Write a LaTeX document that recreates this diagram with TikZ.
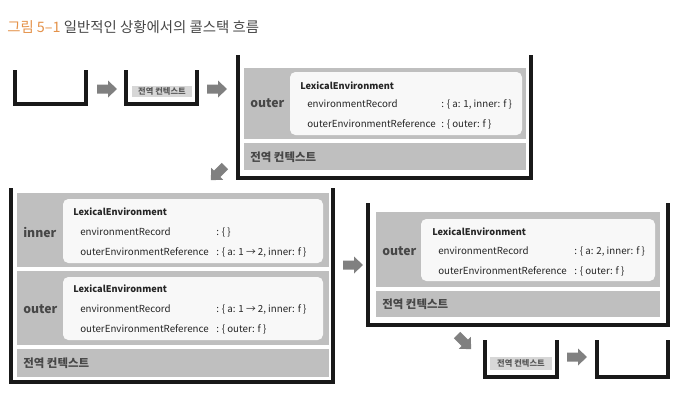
\documentclass[tikz,border=0pt]{standalone}
\usepackage{fontspec}
\setmainfont{Noto Sans CJK KR}

\definecolor{titleorange}{RGB}{228,146,74}
\definecolor{titlegray}{RGB}{70,70,70}
\definecolor{envgray}{RGB}{191,191,191}
\definecolor{lexwhite}{RGB}{248,248,248}
\definecolor{tagray}{RGB}{215,215,215}
\definecolor{arrowgray}{RGB}{128,128,128}

\tikzstyle{txt} = [inner sep=0pt, anchor=west, text=black!85, font=\fontsize{7.3}{9}\selectfont]
\tikzstyle{lexhead} = [txt, font=\fontsize{6.9}{9}\selectfont\bfseries]
\tikzstyle{envname} = [txt, font=\fontsize{9.2}{11}\selectfont\bfseries, text=black!72]
\tikzstyle{globaltxt} = [txt, font=\fontsize{8.6}{10}\selectfont\bfseries, text=black!72]
\tikzstyle{smalltxt} = [inner sep=0pt, text=black!65, font=\fontsize{6.2}{7}\selectfont\bfseries]
\tikzstyle{stackline} = [line width=2.6pt, black!90, line join=miter]
\tikzstyle{envbox} = [fill=envgray]
\tikzstyle{lexbox} = [fill=lexwhite, rounded corners=4pt]
\tikzstyle{tagbox} = [fill=tagray]

\tikzset{pics/blockarrow/.style={code={
 \fill[arrowgray] (0,-4.5) -- (11,-4.5) -- (11,-8.5) -- (20,0) -- (11,8.5) -- (11,4.5) -- (0,4.5) -- cycle;
}}}

\begin{document}
\begin{tikzpicture}[x=0.75pt, y=-0.75pt]
\useasboundingbox (0,0) rectangle (690,411);

% Title
\node[txt, font=\fontsize{10.8}{12}\selectfont] (title) at (7,27) {\textcolor{titleorange}{그림 5–1} \textcolor{titlegray}{일반적인 상황에서의 콜스택 흐름}};

%STACK1 (empty)
\draw[stackline] (15,70) |- (86,104) -- (86,70);
\pic at (97,89) {blockarrow};

%STACK2 (global only)
\draw[stackline] (126,70) |- (197,104) -- (197,70);
\fill[tagbox] (132,86) rectangle (192,97);
\node[smalltxt] (global2) at (162,91.5) {전역 컨텍스트};
\pic at (207,89) {blockarrow};

%STACK3 (outer called)
\draw[stackline] (238,55) |- (531,178) -- (531,55);
\fill[envbox] (244,68) rectangle (526,139);
\fill[lexbox] (290,72) rectangle (522,135);
\node[envname] (outer3) at (250,103) {outer};
\node[lexhead] (lex3) at (300,86) {LexicalEnvironment};
\node[txt] (rec3) at (307,104) {environmentRecord};
\node[txt] (recval3) at (441,104) {: \{ a: 1, inner: f \}};
\node[txt] (ref3) at (307,124) {outerEnvironmentReference};
\node[txt] (refval3) at (441,124) {: \{ outer: f \}};
\fill[envbox] (244,143) rectangle (526,170);
\node[globaltxt] (global3) at (250,157) {전역 컨텍스트};
\pic[rotate=-135] at (225,166) {blockarrow};

%STACK4 (inner called)
\draw[stackline] (11,188) |- (333,382) -- (333,188);
% inner
\fill[envbox] (17,193) rectangle (329,267);
\fill[lexbox] (63,199) rectangle (323,263);
\node[envname] (inner4) at (23,232) {inner};
\node[lexhead] (lexin4) at (73,212) {LexicalEnvironment};
\node[txt] (recin4) at (80,232) {environmentRecord};
\node[txt] (recvalin4) at (216,232) {: \{ \}};
\node[txt] (refin4) at (80,252) {outerEnvironmentReference};
\node[txt] (refvalin4) at (216,252) {: \{ a: 1 → 2, inner: f \}};
% outer
\fill[envbox] (17,271) rectangle (329,345);
\fill[lexbox] (63,277) rectangle (323,340);
\node[envname] (outer4) at (23,309) {outer};
\node[lexhead] (lexout4) at (73,289) {LexicalEnvironment};
\node[txt] (recout4) at (80,309) {environmentRecord};
\node[txt] (recvalout4) at (216,309) {: \{ a: 1 → 2, inner: f \}};
\node[txt] (refout4) at (80,329) {outerEnvironmentReference};
\node[txt] (refvalout4) at (216,329) {: \{ outer: f \}};
\fill[envbox] (17,349) rectangle (329,377);
\node[globaltxt] (global4) at (23,363) {전역 컨텍스트};
\pic at (343,265) {blockarrow};

%STACK5 (inner done)
\draw[stackline] (368,203) |- (668,325) -- (668,203);
\fill[envbox] (376,212) rectangle (660,287);
\fill[lexbox] (421,219) rectangle (655,281);
\node[envname] (outer5) at (382,251) {outer};
\node[lexhead] (lex5) at (432,232) {LexicalEnvironment};
\node[txt] (rec5) at (438,251) {environmentRecord};
\node[txt] (recval5) at (574,251) {: \{ a: 2, inner: f \}};
\node[txt] (ref5) at (438,271) {outerEnvironmentReference};
\node[txt] (refval5) at (574,271) {: \{ outer: f \}};
\fill[envbox] (376,291) rectangle (660,317);
\node[globaltxt] (global5) at (382,304) {전역 컨텍스트};
\pic[rotate=-45] at (457,335) {blockarrow};

%STACK6 (global only)
\draw[stackline] (485,340) |- (557,377) -- (557,340);
\fill[tagbox] (490,357) rectangle (552,370);
\node[smalltxt] (global6) at (521,363.5) {전역 컨텍스트};
\pic at (567,357) {blockarrow};

%STACK7 (empty)
\draw[stackline] (597,340) |- (668,377) -- (668,340);
\end{tikzpicture}
\end{document}
